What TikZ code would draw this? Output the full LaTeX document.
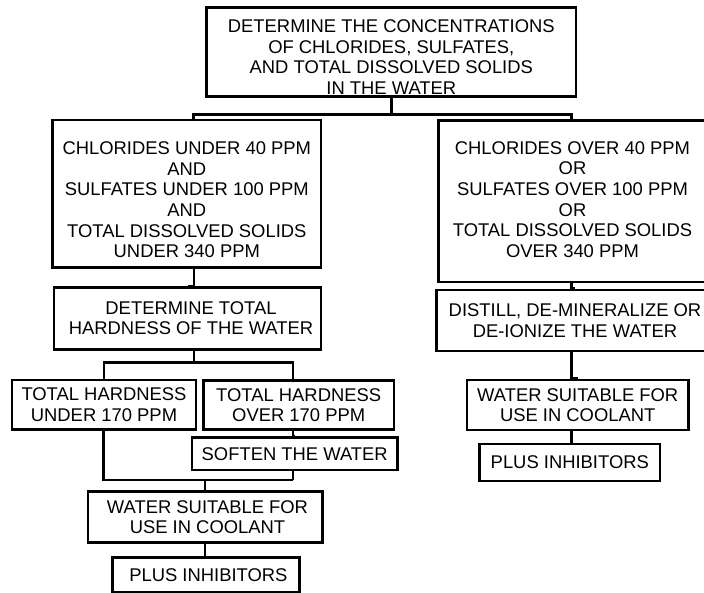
\documentclass[tikz,border=0pt]{standalone}
\usepackage{fontspec}
\setmainfont{Liberation Sans}
\usepackage{tikz}
% décalage vertical du texte dans une boîte
\newcommand\monte[1]{\rule{0pt}{#1}}
\newcommand\descend[1]{\rule[-#1]{0pt}{#1}}

\begin{document}
\begin{tikzpicture}[x=1pt, y=-1pt, line width=2.6pt,
  boite/.style={draw, align=center, inner sep=2pt,
    font=\fontsize{18.4}{20.6}\selectfont}]
\path[fill=white, use as bounding box] (0,0) rectangle (704,592);
% analyse de l'eau
\node[boite, minimum width=369.3, minimum height=89.4] (analyse) at (391.3,52)
  {\monte{23pt}DETERMINE THE CONCENTRATIONS\\OF CHLORIDES, SULFATES,\\AND TOTAL DISSOLVED SOLIDS\\IN THE WATER};
% branche gauche
\node[boite, minimum width=268.5, minimum height=147.7] (sous) at (186.8,193.8)
  {\monte{25pt}CHLORIDES UNDER 40 PPM\\AND\\SULFATES UNDER 100 PPM\\AND\\TOTAL DISSOLVED SOLIDS\\UNDER 340 PPM};
\node[boite, minimum width=267, minimum height=62] (durete) at (187.5,318.3)
  {\hspace*{7pt}DETERMINE TOTAL\\\hspace*{7pt}HARDNESS OF THE WATER};
\node[boite, minimum width=184, minimum height=49.3] (moins) at (104,404.7)
  {TOTAL HARDNESS\\UNDER 170 PPM};
\node[boite, minimum width=190.6, minimum height=48.6] (plus) at (298.7,405)
  {TOTAL HARDNESS\\OVER 170 PPM};
\node[boite, minimum width=205.4, minimum height=32.3] (adoucir) at (294.7,453.9)
  {SOFTEN THE WATER};
\node[boite, minimum width=234.4, minimum height=50.6] (eauG) at (205,517)
  {\hspace*{5pt}WATER SUITABLE FOR\\\hspace*{5pt}USE IN COOLANT};
\node[boite, minimum width=187.2, minimum height=35] (inhibG) at (205.9,575)
  {\hspace*{5pt}PLUS INHIBITORS};
% branche droite
\node[boite, minimum width=267.6, minimum height=161.5] (sur) at (572.5,201.3)
  {CHLORIDES OVER 40 PPM\\OR\\SULFATES OVER 100 PPM\\OR\\TOTAL DISSOLVED SOLIDS\\OVER 340 PPM\descend{4pt}};
\node[boite, minimum width=277, minimum height=61] (distiller) at (575,320.5)
  {DISTILL, DE-MINERALIZE OR\\DE-IONIZE THE WATER};
\node[boite, minimum width=221.4, minimum height=50] (eauD) at (577.7,405)
  {WATER SUITABLE FOR\\USE IN COOLANT};
\node[boite, minimum width=180.4, minimum height=37] (inhibD) at (569.8,462.5)
  {PLUS INHIBITORS};
% liaisons
\draw (analyse.south) -- ++(0,16.3) coordinate (j1);
\draw ([xshift=6.7pt]sous.north) |- (j1) -| ([xshift=-0.9pt]sur.north);
\draw ([xshift=7pt]sous.south) |- (durete.north);
\draw ([xshift=-0.9pt]sur.south) |- (distiller.north);
\draw ([xshift=6.5pt]durete.south) -- ++(0,11.7) coordinate (j2);
\draw (moins.north) |- (j2) -| ([xshift=-5.9pt]plus.north);
\draw ([xshift=-5.9pt]plus.south) |- (adoucir.north);
\draw ([xshift=-1.9pt]adoucir.south) -- ++(0,8.8) coordinate (j3);
\draw ([xshift=-0.7pt]moins.south) |- (j3);
\draw (eauG.north) -- (eauG.north |- j3);
\draw (eauG.south) |- (inhibG.north);
\draw ([xshift=-3.4pt]distiller.south) |- (eauD.north);
\draw ([xshift=-6.1pt]eauD.south) |- (inhibD.north);
\end{tikzpicture}
\end{document}
